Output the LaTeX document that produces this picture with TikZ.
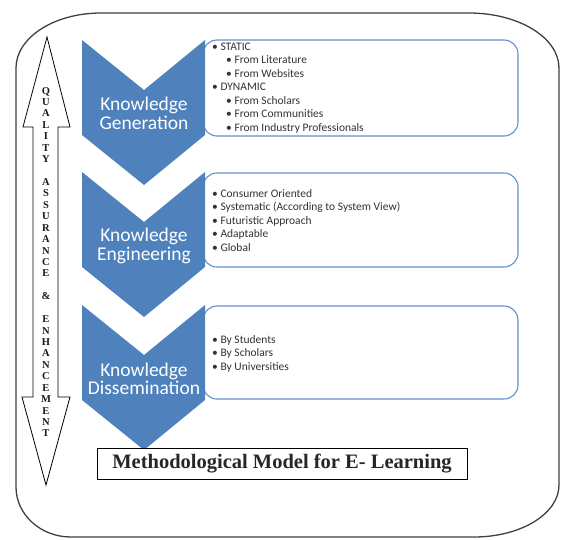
\documentclass[tikz,border=0pt]{standalone}
\usepackage{fontspec}
\setmainfont{Liberation Serif}
\newfontfamily\calibri{Carlito}

\definecolor{kblue}{RGB}{79,129,189}
\definecolor{kline}{RGB}{98,144,206}

\tikzset{
  chev/.style={fill=kblue},
  stage/.style={text=white,align=center,inner sep=0pt,
    font=\calibri\fontsize{19.5}{18.5}\selectfont},
  listbox/.style={draw=kline,line width=1.1pt,rounded corners=14pt,fill=white},
  items/.style={anchor=west,align=left,inner sep=0pt,text=black!80,
    font=\calibri\fontsize{11.5}{13.5}\selectfont},
}
\newcommand{\sub}{\hspace*{14pt}}

\begin{document}
\begin{tikzpicture}[x=1pt,y=-1pt]
\useasboundingbox (0,0) rectangle (563,539);

% frame round everything
\draw[black!75,line width=1.3pt] (101,13) -- (469,13)
  arc[start angle=-90,end angle=0,x radius=90,y radius=55] -- (559,485)
  arc[start angle=0,end angle=90,x radius=85,y radius=52] -- (71,537)
  arc[start angle=90,end angle=180,x radius=55,y radius=50] -- (16,68)
  arc[start angle=180,end angle=270,x radius=85,y radius=55] -- cycle;

% quality arrow, both ways
\draw[line width=0.8pt,fill=white] (47,37) -- (70,127) -- (58,127) -- (58,397)
  -- (70,397) -- (46,485) -- (22,397) -- (33,397) -- (33,127) -- (23,127) -- cycle;
\node (qa) [inner sep=0pt,align=center,text=black!90,
  font=\bfseries\fontsize{10.5}{11.43}\selectfont]
  at (46,262) {Q\\U\\A\\L\\I\\T\\Y\\[11.43pt]A\\S\\S\\U\\R\\A\\N\\C\\E\\[11.43pt]\&\\[11.43pt]E\\N\\H\\A\\N\\C\\E\\M\\E\\N\\T};

% lists
\draw[listbox] (203,40) rectangle (518,136);
\draw[listbox] (203,173) rectangle (518,267);
\draw[listbox] (203,306) rectangle (518,399);

\node (genlist) [items] at (212,88) {\textbullet\ STATIC\\
  \sub\textbullet\ From Literature\\
  \sub\textbullet\ From Websites\\
  \textbullet\ DYNAMIC\\
  \sub\textbullet\ From Scholars\\
  \sub\textbullet\ From Communities\\
  \sub\textbullet\ From Industry Professionals};
\node (englist) [items] at (212,220.5) {\textbullet\ Consumer Oriented\\
  \textbullet\ Systematic (According to System View)\\
  \textbullet\ Futuristic Approach\\
  \textbullet\ Adaptable\\
  \textbullet\ Global};
\node (dislist) [items] at (212,353.5) {\textbullet\ By Students\\
  \textbullet\ By Scholars\\
  \textbullet\ By Universities};

% the three stages
\fill[chev] (82,40) -- (144,90) -- (205,40) -- (205,135) -- (144,185) -- (82,135) -- cycle;
\fill[chev] (82,172) -- (144,222) -- (205,172) -- (205,267) -- (144,317) -- (82,267) -- cycle;
\fill[chev] (82,305) -- (144,355) -- (205,305) -- (205,400) -- (144,450) -- (82,400) -- cycle;

\node (gen) [stage] at (144,113.5) {Knowledge\\Generation};
\node (eng) [stage] at (144,246) {Knowledge\\Engineering};
\node (dis) [stage] at (144,379) {Knowledge\\Dissemination};

% title
\node (title) [draw,line width=0.9pt,fill=white,inner sep=0pt,
  minimum width=370pt,minimum height=31pt,text=black!85,
  font=\bfseries\fontsize{20.5}{22}\selectfont]
  at (282,463.5) {Methodological Model for E- Learning};
\end{tikzpicture}
\end{document}
